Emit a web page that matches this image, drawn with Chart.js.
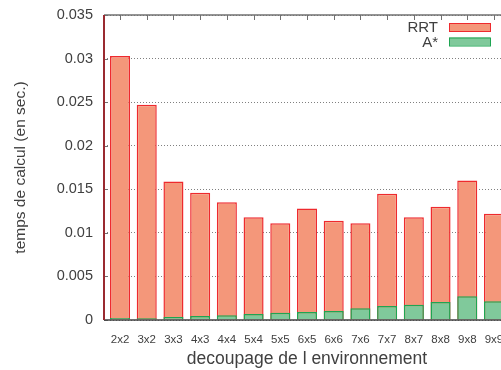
<!DOCTYPE html>
<html>
<head>
<meta charset="utf-8">
<script src="https://cdn.jsdelivr.net/npm/chart.js@4"></script>
<style>
  html, body { margin: 0; padding: 0; background: #fff; overflow: hidden; }
  #wrap { width: 520px; height: 370px; }
</style>
</head>
<body>
<div id="wrap"><canvas id="chart"></canvas></div>
<script>
// découpages de l'environnement
const labels = ['2x2', '3x2', '3x3', '4x3', '4x4', '5x4', '5x5', '6x5', '6x6', '7x6', '7x7', '8x7', '8x8', '9x8', '9x9'];
// temps de calcul (sec.)
const rrt = [0.0303, 0.0247, 0.0159, 0.0146, 0.0135, 0.0118, 0.0111, 0.0128, 0.0114, 0.0111, 0.0145, 0.0118, 0.0130, 0.0160, 0.0122];
const astar = [0.00023, 0.0002, 0.00034, 0.00046, 0.00054, 0.00069, 0.00084, 0.00092, 0.00103, 0.00134, 0.0016, 0.00176, 0.00207, 0.00272, 0.00215];

const textColor = '#404040';
const font = 'Liberation Sans, Arial, Helvetica, sans-serif';

// frame: top border with inward ticks, left border, inside legend
const framePlugin = {
  id: 'frame',
  afterDraw(chart) {
    const ctx = chart.ctx;
    const a = chart.chartArea;
    const xs = chart.scales.x;
    const ys = chart.scales.y;
    ctx.save();
    // top border
    ctx.strokeStyle = '#707070';
    ctx.lineWidth = 1.5;
    ctx.beginPath();
    ctx.moveTo(a.left, a.top);
    ctx.lineTo(a.right, a.top);
    ctx.stroke();
    ctx.lineWidth = 1;
    labels.forEach((l, i) => {
      const px = Math.round(xs.getPixelForValue(i)) + 0.5;
      ctx.beginPath();
      ctx.moveTo(px, a.top);
      ctx.lineTo(px, a.top + 5);
      ctx.stroke();
    });
    // y ticks inward
    ys.ticks.forEach(t => {
      const py = Math.round(ys.getPixelForValue(t.value)) + 0.5;
      ctx.beginPath();
      ctx.moveTo(a.left, py);
      ctx.lineTo(a.left + 4, py);
      ctx.stroke();
    });
    // bottom axis
    ctx.strokeStyle = '#404040';
    ctx.lineWidth = 1.5;
    ctx.beginPath();
    ctx.moveTo(a.left, a.bottom);
    ctx.lineTo(a.right, a.bottom);
    ctx.stroke();
    // left axis
    ctx.strokeStyle = '#9a2a30';
    ctx.lineWidth = 2;
    ctx.beginPath();
    ctx.moveTo(a.left, a.top);
    ctx.lineTo(a.left, a.bottom);
    ctx.stroke();

    // legend
    const items = [
      { text: 'RRT', fill: '#f4977a', border: '#ee2a2e' },
      { text: 'A*', fill: '#80c99b', border: '#1ea552' }
    ];
    ctx.font = '15px ' + font;
    ctx.textAlign = 'right';
    ctx.textBaseline = 'middle';
    items.forEach((it, i) => {
      const cy = a.top + 12 + i * 14.5;
      ctx.fillStyle = textColor;
      ctx.fillText(it.text, a.right - 72, cy + 1);
      ctx.fillStyle = it.fill;
      ctx.strokeStyle = it.border;
      ctx.lineWidth = 1;
      ctx.fillRect(a.right - 61, cy - 4, 41, 8);
      ctx.strokeRect(a.right - 61 + 0.5, cy - 4 + 0.5, 41, 8);
    });
    ctx.restore();
  }
};

new Chart(document.getElementById('chart'), {
  type: 'bar',
  data: {
    datasets: [
      {
        label: 'A*',
        data: astar.map((v, i) => ({ x: i, y: v })),
        backgroundColor: '#80c99b',
        borderColor: '#1ea552',
        borderWidth: 1.5,
        barPercentage: 0.75,
        categoryPercentage: 1
      },
      {
        label: 'RRT',
        data: rrt.map((v, i) => ({ x: i, y: v })),
        backgroundColor: '#f4977a',
        borderColor: '#ee2a2e',
        borderWidth: 1.5,
        barPercentage: 0.75,
        categoryPercentage: 1
      }
    ]
  },
  options: {
    responsive: true,
    maintainAspectRatio: false,
    animation: false,
    grouped: false,
    layout: { padding: { top: 15, right: 10, left: 0, bottom: 0 } },
    plugins: {
      legend: { display: false },
      tooltip: { enabled: false }
    },
    scales: {
      x: {
        type: 'linear',
        min: -0.6,
        max: 14.6,
        offset: false,
        afterBuildTicks: s => { s.ticks = labels.map((l, i) => ({ value: i })); },
        afterFit: s => { s.height = 50; s.paddingLeft = 0; s.paddingRight = 0; },
        grid: { display: false, drawTicks: false },
        border: { display: false },
        ticks: {
          autoSkip: false,
          maxRotation: 0,
          padding: 13,
          color: textColor,
          font: { family: font, size: 11.5 },
          callback: v => labels[v]
        },
        title: {
          display: true,
          text: 'decoupage de l environnement',
          color: textColor,
          font: { family: font, size: 17.5 },
          padding: { top: 0, bottom: 0 }
        }
      },
      y: {
        min: 0,
        max: 0.035,
        afterFit: s => { s.width = 104; s.paddingTop = 0; s.paddingBottom = 0; },
        grid: {
          color: '#808080',
          lineWidth: 1,
          drawTicks: false
        },
        border: { display: false, dash: [1, 2] },
        ticks: {
          stepSize: 0.005,
          padding: 11,
          color: textColor,
          font: { family: font, size: 14.5 },
          callback: v => String(+v.toFixed(3))
        },
        title: {
          display: true,
          text: 'temps de calcul (en sec.)',
          color: textColor,
          font: { family: font, size: 15.5 },
          padding: { top: 11, bottom: 4 }
        }
      }
    }
  },
  plugins: [framePlugin]
});
</script>
</body>
</html>
